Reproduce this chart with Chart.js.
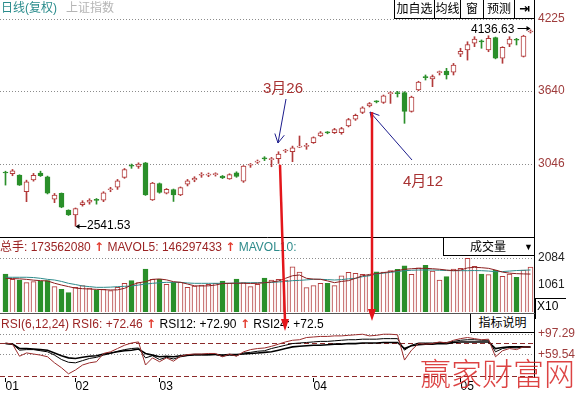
<!DOCTYPE html>
<html><head><meta charset="utf-8">
<script src="https://cdn.jsdelivr.net/npm/chart.js@4.4.0/dist/chart.umd.min.js"></script>
<style>
html,body{margin:0;padding:0;background:#fff;}
#wrap{position:relative;width:579px;height:396px;overflow:hidden;background:#fff;font-family:"Liberation Sans","Noto Sans CJK SC",sans-serif;font-size:12px;color:#000;}
canvas{position:absolute;left:0;}
.t{position:absolute;white-space:nowrap;line-height:14px;}
.box{position:absolute;border:1px solid #000;background:#fff;box-sizing:border-box;text-align:center;white-space:nowrap;}
.ar{color:#e23b2e;font-weight:bold;font-family:'DejaVu Sans';font-size:12px;}
</style></head>
<body><div id="wrap">
<canvas id="c1" width="579" height="238" style="top:0"></canvas>
<canvas id="c2" width="579" height="75" style="top:238px"></canvas>
<canvas id="c3" width="579" height="83" style="top:313px"></canvas>

<div class="t" style="left:1px;top:1px;color:#2a8c8c">日线(复权)</div>
<div class="t" style="left:66px;top:1px;color:#b5b5b5">上证指数</div>
<div class="box" style="left:394px;top:-1px;width:41px;height:20px;line-height:18px;">加自选</div>
<div class="box" style="left:434px;top:-1px;width:27px;height:20px;line-height:18px;">均线</div>
<div class="box" style="left:460px;top:-1px;width:24px;height:20px;line-height:18px;">窗</div>
<div class="box" style="left:483px;top:-1px;width:32px;height:20px;line-height:18px;">预测</div>
<div class="box" style="left:514px;top:-1px;width:21px;height:20px;line-height:18px;font-family:'DejaVu Sans';font-weight:bold;font-size:13px;">⇥</div>

<div class="t" style="left:471px;top:22px;">4136.63</div>
<div class="t" style="left:87px;top:218px;">2541.53</div>
<div class="t" style="left:263px;top:79px;font-size:15px;line-height:18px;color:#a83232">3月26</div>
<div class="t" style="left:403px;top:172px;font-size:15px;line-height:18px;color:#a83232">4月12</div>

<div class="t" style="left:0px;top:240px;"><span style="color:#9b2424">总手: 173562080 </span><span class="ar">↑</span><span style="color:#9b2424"> MAVOL5: 146297433 </span><span class="ar">↑</span><span style="color:#2e8b8b"> MAVOL10:</span></div>
<div class="box" style="left:443px;top:237px;width:92px;height:19px;">
  <span class="t" style="left:26px;top:2px;">成交量</span>
  <span class="t" style="left:80px;top:2px;font-size:9px;">▼</span>
</div>
<div style="position:absolute;left:535px;top:298px;width:30px;height:20px;border-left:1px solid #000;border-top:1px solid #000;"></div>
<div class="t" style="left:537px;top:299px;">X10</div>

<div class="t" style="left:1px;top:317px;"><span style="color:#9b2424">RSI(6,12,24) RSI6: +72.46 </span><span class="ar">↑</span><span> RSI12: +72.90 </span><span class="ar">↑</span><span> RSI24: +72.5</span></div>
<div class="box" style="left:470px;top:313px;width:65px;height:20px;line-height:18px;">指标说明</div>

<canvas id="ov" width="579" height="396" style="top:0"></canvas>
<div class="t" style="left:420px;top:354px;font-size:31px;line-height:36px;color:rgba(214,34,34,0.85);font-family:'Noto Sans CJK SC';font-weight:300;">赢家财富网</div>
</div>
<script>
// ---------- data ----------
const months = ['01','02','03','04','05'];
const monthStarts = [0,10,22,44,65];

const opens = [2978,2967,2957,2821,2917,2973,2943,2760,2807,2671, 2633,2715,2736,2755,2753,2837,2858,2938,3032,3026,
 3056,2755,2888,2809,2839,2796,2882,2917,2955,2956, 2960,2948,2926,2975,2907,3036,3062,3092,3082,3090,
 3152,3147,3183,3190,3220,3275,3303,3302,3302,3356, 3410,3465,3518,3555,3546,3619,3623,3626,3474,3648,
 3754,3738,3789,3802,3792,3939,3974,4028,4043,3974, 4073,3906,4020,4056,3921,4119];
const closes = [2973,2990,2875,2902,2955,2951,2809,2793,2695,2633, 2684,2732,2752,2751,2813,2841,2910,3002,3028,3045,
 2796,2892,2815,2841,2796,2854,2909,2931,2959,2960, 2964,2933,2961,2945,3030,3040,3067,3088,3086,3127,
 3156,3178,3191,3194,3262,3300,3299,3327,3335,3408, 3443,3503,3538,3551,3600,3623,3619,3474,3591,3713,
 3749,3756,3793,3771,3850,3963,4018,4061,4039,4067, 3906,3994,4061,4052,4086,4124];
const highs = [2988,3002,2959,2915,2970,2988,2948,2807,2811,2674, 2689,2748,2764,2766,2821,2857,2921,3010,3046,3056,
 3059,2897,2892,2847,2843,2860,2921,2943,2976,2973, 2975,2953,2967,2983,3034,3051,3079,3106,3100,3146,
 3166,3192,3274,3214,3267,3310,3310,3336,3344,3417, 3452,3512,3546,3561,3607,3634,3637,3634,3598,3719,
 3770,3770,3802,3824,3864,3987,4040,4081,4055,4089, 4078,4000,4081,4068,4093,4136.63];
const lows = [2875,2951,2872,2740,2907,2945,2803,2732,2691,2628, 2541.53,2704,2720,2720,2740,2821,2840,2930,3011,3011,
 2791,2750,2809,2803,2742,2789,2868,2902,2938,2943, 2948,2928,2922,2938,2897,3019,3051,3074,3024,3051,
 3140,3065,3180,3166,3214,3269,3292,3294,3288,3348, 3401,3456,3510,3543,3539,3539,3591,3377,3468,3642,
 3729,3675,3770,3737,3770,3919,3891,4000,3987,3959, 3901,3865,4000,4014,3916,4111];

const volumes = [1467,1262,1235,1132,1171,1197,1210,978,875,746, 952,1016,926,849,875,823,952,1107,1210,1132,
 1660,1261,1261,1068,1145,1145,952,1004,1042,1068, 1107,1197,1107,1274,1132,978,1068,1312,1235,1261,
 1235,1740,1540,939,1020,1107,1107,1016,1400,1530, 1492,1454,1415,1550,1540,1600,1650,1780,1454,1700,
 1800,1580,1235,1364,1660,1686,2075,1760,1460,1440, 1610,1380,1460,1340,1620,1736];
const mavol5 = [1300,1290,1280,1260,1230,1210,1200,1110,1040,980, 920,900,885,875,860,850,855,913,1040,1130,
 1170,1260,1275,1240,1170,1145,1080,1010,1004,1010, 1040,1100,1107,1110,1107,1100,1107,1130,1160,1197,
 1300,1400,1428,1300,1270,1262,1200,1132,1180,1210, 1300,1400,1450,1480,1520,1557,1600,1647,1670,1685,
 1685,1670,1650,1620,1595,1620,1700,1725,1710,1685, 1620,1540,1500,1480,1470,1463];
const mavol10 = [1340,1340,1340,1340,1330,1300,1260,1235,1180,1107, 1060,1004,980,952,952,960,978,990,1004,1040,
 1080,1107,1130,1145,1145,1145,1120,1107,1107,1107, 1107,1107,1110,1120,1125,1130,1132,1132,1140,1160,
 1180,1210,1220,1240,1262,1262,1250,1235,1250,1280, 1300,1364,1400,1467,1500,1530,1560,1595,1610,1620,
 1622,1620,1610,1600,1595,1595,1595,1600,1595,1580, 1557,1560,1580,1600,1610,1622];

const rsi6 = [80,78,56,62,60,58,55,44,35,24, 31,40,44,46,61,64,70,76,80,82, 40,53,46,53,47,56,59,60,60,61,
 61,55,60,56,64,68,70,71,74,78, 82,85,86,90,91,92,92,93,93,94, 95,96,93,94,96,96,95,49,67,79,
 78,79,82,80,85,88,90,88,86,87, 55,66,70,68,73,72.46];
const rsi12 = [79,78,67,68,68,66,64,58,50,45, 44,48,52,54,58,61,65,68,70,71, 53,57,50,54,51,55,57,58,58,58,
 59,56,58,57,62,63,65,66,70,73, 76,79,80,81,82,83,83,84,85,86, 86,87,87,87,88,88,88,67,76,80,
 80,80,81,81,83,85,86,86,85,85, 64,70,72,71,73,72.90];
const rsi24 = [79,78,70,70,69,68,67,62,57,53, 52,54,56,57,60,62,64,66,67,69, 61,58,55,56,55,57,58,59,59,59,
 59,58,59,59,60,61,62,63,64,67, 70,73,74,75,76,76,77,78,78,79, 79,80,80,80,81,81,81,70,75,77,
 78,78,79,79,81,82,82,82,82,82, 70,72,73,73,73,72.5];

const priceTicks = [3046, 3640, 4225];
const volTicks = [1061, 2084];
const rsiTicks = [59.54, 97.29];
const rsiBands = [20, 80];

// ---------- build ----------
const N = opens.length;
const labels = [];
for (let k = 0; k < N; k++) {
  let m = 0;
  for (let j = 0; j < monthStarts.length; j++) if (k >= monthStarts[j]) m = j;
  labels.push(months[m] + '/' + (k - monthStarts[m] + 1));
}
const RED = '#b23a3a', GREEN = '#2a8f2a';
const up = opens.map((o, i) => closes[i] >= o);

Chart.defaults.font.family = "'Liberation Sans', Arial, sans-serif";
Chart.defaults.font.size = 12;

const refLines = {
  id: 'refLines',
  beforeDatasetsDraw(chart, args, opts) {
    const {ctx, chartArea: a} = chart;
    const y = chart.scales.y;
    ctx.save();
    (opts.lines || []).forEach(l => {
      const py = Math.round(y.getPixelForValue(l.v)) + 0.5;
      ctx.strokeStyle = l.c; ctx.lineWidth = 1; ctx.setLineDash(l.d);
      ctx.beginPath(); ctx.moveTo(0, py); ctx.lineTo(a.right, py); ctx.stroke();
    });
    ctx.restore();
  }
};

function yAxis(min, max, ticks, color, fmt) {
  return {
    position: 'right', min, max,
    grid: {display: false, drawTicks: false},
    border: {display: false},
    ticks: {color, padding: 4, font: {size: 12}, callback: v => fmt(v)},
    afterBuildTicks: s => { s.ticks = ticks.map(v => ({value: v})); },
    afterFit: s => { s.width = 45; s.paddingTop = 0; s.paddingBottom = 0; }
  };
}
const base = {
  responsive: false, animation: false, devicePixelRatio: 1, events: []
};

const ch1 = new Chart(document.getElementById('c1'), {
  type: 'bar',
  data: {labels, datasets: [
    {data: opens.map((o, i) => [Math.min(o, closes[i]), Math.max(o, closes[i])]),
     backgroundColor: up.map(u => u ? '#ffffff' : GREEN), borderColor: up.map(u => u ? RED : GREEN),
     borderWidth: 1, borderSkipped: false, barThickness: 5, minBarLength: 1, grouped: false},
    {data: lows.map((l, i) => [l, highs[i]]), backgroundColor: up.map(u => u ? RED : GREEN),
     borderWidth: 0, barThickness: 1, grouped: false}
  ]},
  options: Object.assign({}, base, {
    layout: {padding: {left: 2, top: 19, right: 0, bottom: 1}},
    plugins: {legend: {display: false}, tooltip: {enabled: false},
      refLines: {lines: priceTicks.map(v => ({v, c: '#8c8c8c', d: [1, 2]}))}},
    scales: {x: {display: false, offset: true}, y: yAxis(2453, 4225, priceTicks, '#9e3b3b', v => String(v))}
  }),
  plugins: [refLines]
});

const ch2 = new Chart(document.getElementById('c2'), {
  type: 'bar',
  data: {labels, datasets: [
    {type: 'line', data: mavol5, borderColor: '#8b1f1f', borderWidth: 1, pointRadius: 0, tension: 0},
    {type: 'line', data: mavol10, borderColor: '#2e8b8b', borderWidth: 1, pointRadius: 0, tension: 0},
    {type: 'bar', data: volumes, backgroundColor: up.map(u => u ? '#ffffff' : GREEN),
     borderColor: up.map(u => u ? RED : GREEN), borderWidth: 1, barThickness: 5}
  ]},
  options: Object.assign({}, base, {
    layout: {padding: {left: 2, top: 0, right: 0, bottom: 1}},
    plugins: {legend: {display: false}, tooltip: {enabled: false},
      refLines: {lines: [{v: volTicks[1], c: '#8c8c8c', d: [1, 2]}]}},
    scales: {x: {display: false, offset: true}, y: yAxis(0, 2856, volTicks, '#222', v => String(v))}
  }),
  plugins: [refLines]
});

const ch3 = new Chart(document.getElementById('c3'), {
  type: 'line',
  data: {labels, datasets: [
    {data: rsi6, borderColor: '#9a2c2c', borderWidth: 1, pointRadius: 0, tension: 0},
    {data: rsi12, borderColor: '#000', borderWidth: 1, pointRadius: 0, tension: 0},
    {data: rsi24, borderColor: '#000', borderWidth: 1.6, pointRadius: 0, tension: 0}
  ]},
  options: Object.assign({}, base, {
    layout: {padding: {left: 2, top: 0, right: 0, bottom: 0}},
    plugins: {legend: {display: false}, tooltip: {enabled: false},
      refLines: {lines: rsiTicks.map(v => ({v, c: '#8c8c8c', d: [1, 2]}))
        .concat(rsiBands.map(v => ({v, c: '#8b2a2a', d: [5, 3]})))}},
    scales: {
      x: {type: 'category', offset: true, position: 'bottom',
        grid: {display: true, drawOnChartArea: false, drawTicks: true, tickLength: 4, offset: false,
          color: c => monthStarts.includes(c.index) ? '#000' : 'rgba(0,0,0,0)'},
        border: {display: false},
        ticks: {autoSkip: false, maxRotation: 0, align: 'start', padding: -3, color: '#000',
          callback: (v, i) => { const j = monthStarts.indexOf(i); return j >= 0 ? months[j] : ''; }},
        afterFit: s => { s.height = 18; s.paddingLeft = 0; s.paddingRight = 0; }},
      y: yAxis(16.4, 134.6, rsiTicks, '#9e3b3b', v => '+' + v.toFixed(2))
    }
  }),
  plugins: [refLines]
});

// ---------- frame + annotations ----------
const ctx = document.getElementById('ov').getContext('2d');
const xs = ch1.scales.x, ys = ch1.scales.y;
function seg(x1, y1, x2, y2, c, w) {
  ctx.strokeStyle = c; ctx.lineWidth = w; ctx.beginPath(); ctx.moveTo(x1, y1); ctx.lineTo(x2, y2); ctx.stroke();
}
function vArrow(x1, y1, x2, y2, c, w, len, ang) {
  seg(x1, y1, x2, y2, c, w);
  const a = Math.atan2(y1 - y2, x1 - x2);
  seg(x2, y2, x2 + len * Math.cos(a + ang), y2 + len * Math.sin(a + ang), c, w);
  seg(x2, y2, x2 + len * Math.cos(a - ang), y2 + len * Math.sin(a - ang), c, w);
}
function tri(pts, c) {
  ctx.fillStyle = c; ctx.beginPath(); ctx.moveTo(pts[0][0], pts[0][1]);
  pts.slice(1).forEach(p => ctx.lineTo(p[0], p[1])); ctx.closePath(); ctx.fill();
}
// frame lines
seg(534.5, 0, 534.5, 378, '#000', 1);
seg(0, 237.5, 535, 237.5, '#000', 1);
seg(0, 313.5, 535, 313.5, '#555', 1);

// low / high markers
const xLow = xs.getPixelForValue(10), yLow = Math.round(ys.getPixelForValue(2541.53)) + 0.5;
seg(xLow + 3, yLow, xLow + 11, yLow, '#000', 1);
tri([[xLow, yLow], [xLow + 4, yLow - 2.5], [xLow + 4, yLow + 2.5]], '#000');
const xHigh = xs.getPixelForValue(75), yHigh = Math.round(ys.getPixelForValue(4136.63)) - 1.5;
seg(xHigh - 13, yHigh, xHigh - 3, yHigh, '#000', 1);
tri([[xHigh, yHigh], [xHigh - 4, yHigh - 2.5], [xHigh - 4, yHigh + 2.5]], '#000');

// blue pointer arrows
const xA = xs.getPixelForValue(39), xB = xs.getPixelForValue(52);
vArrow(xA + 7.5, 99, xA - 0.5, 143, '#1c1c8c', 1, 10, 0.5);
vArrow(412, 160, xB + 0.5, 112, '#1c1c8c', 1, 10, 0.5);

// red annotation arrows
const R = '#e3161b';
const x1t = xA + 1.5, x1b = xs.getPixelForValue(40) - 0.5;
seg(x1t, ys.getPixelForValue(3040), x1b, 321, R, 2.5);
tri([[x1b - 4, 319], [x1b + 4, 319], [x1b, 331]], R);
const x2 = xB + 2.5;
seg(x2, ys.getPixelForValue(3468), x2, 311, R, 2.5);
tri([[x2 - 4, 309], [x2 + 4, 309], [x2, 321]], R);
</script>
</body></html>
